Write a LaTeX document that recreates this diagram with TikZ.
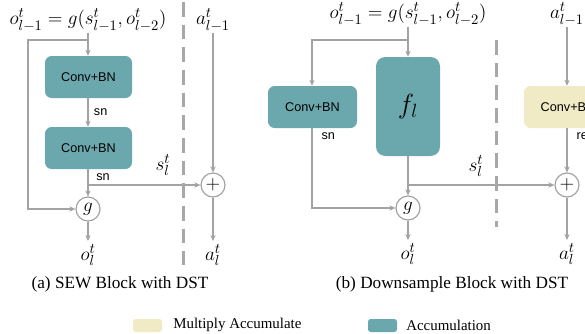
\documentclass[tikz,border=0pt]{standalone}
\usepackage{fontspec}
\setmainfont{Liberation Serif}
\newfontfamily\arialf{Liberation Sans}
\usetikzlibrary{arrows.meta}
\definecolor{tealacc}{HTML}{6AA8AE}
\definecolor{creammac}{HTML}{F0EAC5}
\definecolor{lngray}{HTML}{A3A3A3}
\definecolor{dshgray}{HTML}{A8A8A8}
\begin{document}
\begin{tikzpicture}[x=0.75pt,y=-0.75pt,
  conn/.style={draw=lngray,line width=0.9pt},
  arr/.style={conn,-{Stealth[length=4.5pt,width=4pt]}},
  boxfont/.style={font=\arialf\fontsize{9.5}{11}\selectfont},
  accbox/.style={fill=tealacc,rounded corners=5pt,minimum width=65.25pt,minimum height=31.5pt,inner sep=0pt,boxfont},
  macbox/.style={fill=creammac,rounded corners=5pt,minimum width=66pt,minimum height=31.5pt,inner sep=0pt,boxfont},
  opcirc/.style={circle,draw=lngray,line width=0.9pt,fill=white,minimum size=18pt,inner sep=0pt,font=\fontsize{15}{17}\selectfont},
  mathlbl/.style={inner sep=1pt,font=\fontsize{15}{17}\selectfont},
  smlbl/.style={inner sep=1pt,boxfont},
  sep/.style={draw=dshgray,line width=2.25pt,dash pattern=on 11pt off 6pt},
  caption/.style={inner sep=0pt,font=\fontsize{12.9}{15}\selectfont},
  legtext/.style={inner sep=0pt,anchor=west,font=\fontsize{11.2}{13}\selectfont}
]
\useasboundingbox (0,0) rectangle (585,333);
\clip (0,0) rectangle (585,333);

% ---------- panel (a) ----------
\node[mathlbl] (tA) at (88,20) {$o^t_{l-1} = g(s^t_{l-1}, o^t_{l-2})$};
\node[mathlbl] (aA1) at (213,20) {$a^t_{l-1}$};
\coordinate (jA) at (88,40);
\coordinate (lA) at (28,40);
\node[accbox] (c1) at (88.5,77) {Conv+BN};
\node[accbox] (c2) at (88.5,148) {Conv+BN};
\node[opcirc] (gA) at (88,209) {$g$};
\node[opcirc] (pA) at (213,185) {$+$};
\coordinate (bA) at (88,185);
\node[mathlbl] (oA) at (88,255) {$o^t_l$};
\node[mathlbl] (aA) at (213,255) {$a^t_l$};

\draw[conn] (tA.south -| jA) -- (jA);
\draw[arr] (jA) -- (c1.north -| jA);
\draw[arr] (jA) -- (lA) |- (gA.west);
\draw[arr] (c1.south -| jA) -- node[smlbl,right=3pt] {sn} (c2.north -| jA);
\draw[arr] (c2.south -| jA) -- (gA.north);
\node[smlbl] (snA2) at (103,177) {sn};
\draw[arr] (bA) -- (pA.west);
\node[mathlbl] (sA) at (163,165) {$s^t_l$};
\draw[arr] (aA1.south -| pA) -- (pA.north);
\draw[arr] (gA.south) -- (88,241);
\draw[arr] (pA.south) -- (213,241);
\draw[sep] (183,2) -- (183,265);
\node[caption] (capA) at (120,284) {(a) SEW Block with DST};

% ---------- panel (b) ----------
\node[mathlbl] (tB) at (408,14) {$o^t_{l-1} = g(s^t_{l-1}, o^t_{l-2})$};
\node[mathlbl] (aB1) at (567,14) {$a^t_{l-1}$};
\coordinate (jB) at (408,40);
\coordinate (lB) at (312,40);
\node[accbox,minimum width=66.75pt] (cB) at (312.5,107) {Conv+BN};
\node[accbox,rounded corners=7pt,minimum width=48pt,minimum height=74.25pt,font=\fontsize{20}{22}\selectfont] (fB) at (408,106.5) {$f_l$};
\node[macbox] (cC) at (568,107) {Conv+BN};
\node[opcirc] (gB) at (408,208) {$g$};
\node[opcirc] (pB) at (567,185) {$+$};
\coordinate (bB) at (408,185);
\node[mathlbl] (oB) at (408,254) {$o^t_l$};
\node[mathlbl] (aB) at (567,254) {$a^t_l$};

\draw[conn] (tB.south -| jB) -- (jB);
\draw[arr] (jB) -- (fB.north);
\draw[arr] (jB) -- (lB) -- (cB.north -| lB);
\draw[arr] (cB.south -| lB) |- (gB.west);
\node[smlbl,anchor=west] (snB) at (320,136) {sn};
\draw[arr] (fB.south) -- (gB.north);
\draw[arr] (bB) -- (pB.west);
\node[mathlbl] (sB) at (476,166) {$s^t_l$};
\draw[arr] (aB1.south -| pB) -- (cC.north -| pB);
\draw[arr] (cC.south -| pB) -- (pB.north);
\node[smlbl,anchor=west] (reB) at (575,136) {re};
\draw[arr] (gB.south) -- (408,240);
\draw[arr] (pB.south) -- (567,240);
\draw[sep] (496,40) -- (496,227);
\node[caption] (capB) at (452,284) {(b) Downsample Block with DST};

% ---------- legend ----------
\node[fill=creammac,rounded corners=2pt,minimum width=21.75pt,minimum height=9.75pt,inner sep=0pt] (legM) at (147.5,325.5) {};
\node[legtext] (legMt) at (173,325) {Multiply Accumulate};
\node[fill=tealacc,rounded corners=2pt,minimum width=21.75pt,minimum height=9.75pt,inner sep=0pt] (legA) at (382.5,325.5) {};
\node[legtext] (legAt) at (406,325) {Accumulation};
\end{tikzpicture}
\end{document}
